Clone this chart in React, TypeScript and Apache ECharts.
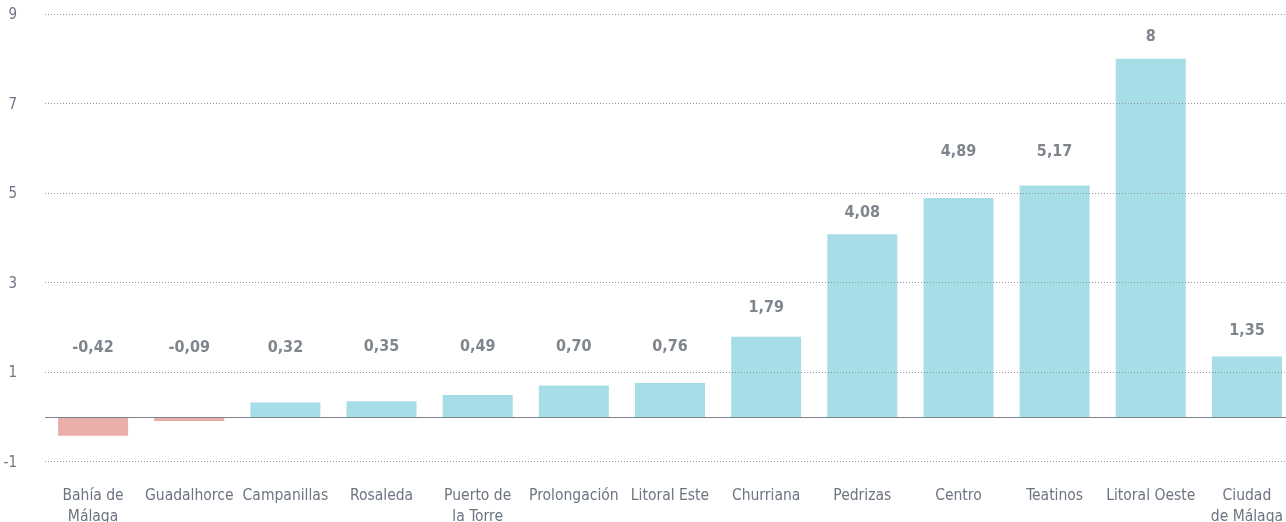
import React, { useEffect, useRef } from "react";
import * as echarts from "echarts";

// Districts, in the order they are drawn
const districts = [
  "Bahía de\nMálaga",
  "Guadalhorce",
  "Campanillas",
  "Rosaleda",
  "Puerto de\nla Torre",
  "Prolongación",
  "Litoral Este",
  "Churriana",
  "Pedrizas",
  "Centro",
  "Teatinos",
  "Litoral Oeste",
  "Ciudad\nde Málaga",
];

// Variation per district
const variation = [-0.42, -0.09, 0.32, 0.35, 0.49, 0.7, 0.76, 1.79, 4.08, 4.89, 5.17, 8, 1.35];

// Labelled reference lines on the value axis
const yTicks = [-1, 1, 3, 5, 7, 9];

// Height (in axis units) at which each value label sits
const labelHeights = [1.57, 1.57, 1.57, 1.6, 1.6, 1.6, 1.6, 2.46, 4.58, 5.96, 5.96, 8.53, 1.96];

const FONT = '"Liberation Sans Narrow", "DejaVu Sans Condensed", "Roboto", sans-serif';
const TEXT = "#6b7480";
const VALUE_TEXT = "#5f6771";
const POS = "#a6dde7";
const NEG = "#e9aeaa";

const fmt = (v: number) =>
  Number.isInteger(v) ? String(v) : v.toFixed(2).replace(".", ",");

export default function App() {
  const ref = useRef<HTMLDivElement>(null);

  useEffect(() => {
    if (!ref.current) return;
    const chart = echarts.init(ref.current, undefined, { renderer: "svg" });

    const gridLines = yTicks.map((t) => ({
      yAxis: t,
      lineStyle: { type: [1, 2] as any, color: "#8f959d", width: 1 },
    }));

    chart.setOption({
      animation: false,
      grid: {
        left: 45,
        top: 14,
        width: 1250,
        height: 447.7,
        containLabel: false,
        outerBoundsMode: "none",
      },
      xAxis: {
        type: "category",
        data: districts,
        axisLine: { show: false, onZero: false },
        axisTick: { show: false },
        axisLabel: {
          interval: 0,
          margin: 23,
          color: TEXT,
          fontFamily: FONT,
          fontSize: 15.5,
          lineHeight: 21,
        },
      },
      yAxis: {
        type: "value",
        min: -1,
        max: 9,
        interval: 1,
        splitLine: { show: false },
        axisLine: { show: false },
        axisTick: { show: false },
        axisLabel: {
          margin: 28,
          color: TEXT,
          fontFamily: FONT,
          fontSize: 15,
          formatter: (v: number) => (yTicks.includes(v) ? String(v) : ""),
        },
      },
      series: [
        {
          type: "bar",
          barWidth: 70,
          data: variation.map((v) => ({
            value: v,
            itemStyle: { color: v < 0 ? NEG : POS },
          })),
          markLine: {
            silent: true,
            symbol: "none",
            label: { show: false },
            data: [
              ...gridLines,
              { yAxis: 0, lineStyle: { type: "solid", color: "#7d838b", width: 1.2 } },
            ],
          },
          z: 2,
        },
        {
          type: "scatter",
          symbolSize: 0,
          silent: true,
          data: variation.map((v, i) => [i, labelHeights[i]]),
          label: {
            show: true,
            position: "inside",
            color: VALUE_TEXT,
            fontFamily: FONT,
            fontWeight: "bold",
            fontSize: 16,
            formatter: (p: any) => fmt(variation[p.dataIndex]),
          },
          z: 3,
        },
      ],
    });

    return () => chart.dispose();
  }, []);

  return (
    <div
      ref={ref}
      style={{ position: "fixed", left: 0, top: 0, width: 1286, height: 522 }}
    />
  );
}
